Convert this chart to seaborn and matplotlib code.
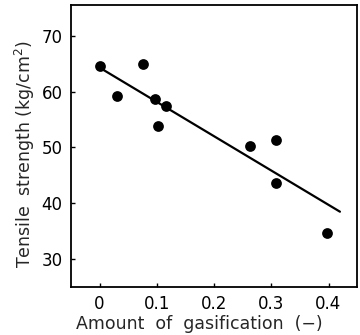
import matplotlib
matplotlib.use("Agg")
import matplotlib.pyplot as plt
import seaborn as sns
import pandas as pd

gasification = [0.0, 0.03, 0.076, 0.097, 0.102, 0.116, 0.263, 0.308, 0.308, 0.397]
strength = [64.5, 59.3, 64.9, 58.7, 53.8, 57.5, 50.3, 51.4, 43.7, 34.6]
fit_x = [0.0, 0.42]
fit_y = [64.3, 38.5]
x_ticks = [0, 0.1, 0.2, 0.3, 0.4]
x_tick_labels = ["0", "0.1", "0.2", "0.3", "0.4"]
y_ticks = [30, 40, 50, 60, 70]

sns.set_style("ticks")
plt.rcParams['font.family'] = ['DejaVu Sans']

fig = plt.figure(figsize=(3.6, 3.35), dpi=100)
ax = fig.add_axes([0.197, 0.143, 0.795, 0.842])

df = pd.DataFrame({"x": gasification, "y": strength})
line_df = pd.DataFrame({"x": fit_x, "y": fit_y})

sns.lineplot(data=line_df, x="x", y="y", ax=ax, color="black", linewidth=1.6)
sns.scatterplot(data=df, x="x", y="y", ax=ax, color="black", s=60,
                edgecolor="black", linewidth=0, zorder=3)

ax.set_xlim(-0.05, 0.45)
ax.set_ylim(25, 75.5)
ax.set_xticks(x_ticks)
ax.set_xticklabels(x_tick_labels)
ax.set_yticks(y_ticks)
ax.tick_params(direction="in", length=3, width=1, labelsize=12, colors="black", pad=6)
for s in ax.spines.values():
    s.set_linewidth(1.3)
    s.set_color("black")
ax.set_xlabel("Amount  of  gasification  (\u2212)", fontsize=12.5, labelpad=1)
ax.set_ylabel("Tensile  strength (kg/cm$^2$)", fontsize=12.5, labelpad=3)
ax.xaxis.label.set_x(0.45)
ax.yaxis.label.set_y(0.47)

fig.savefig("out.png", dpi=100)
